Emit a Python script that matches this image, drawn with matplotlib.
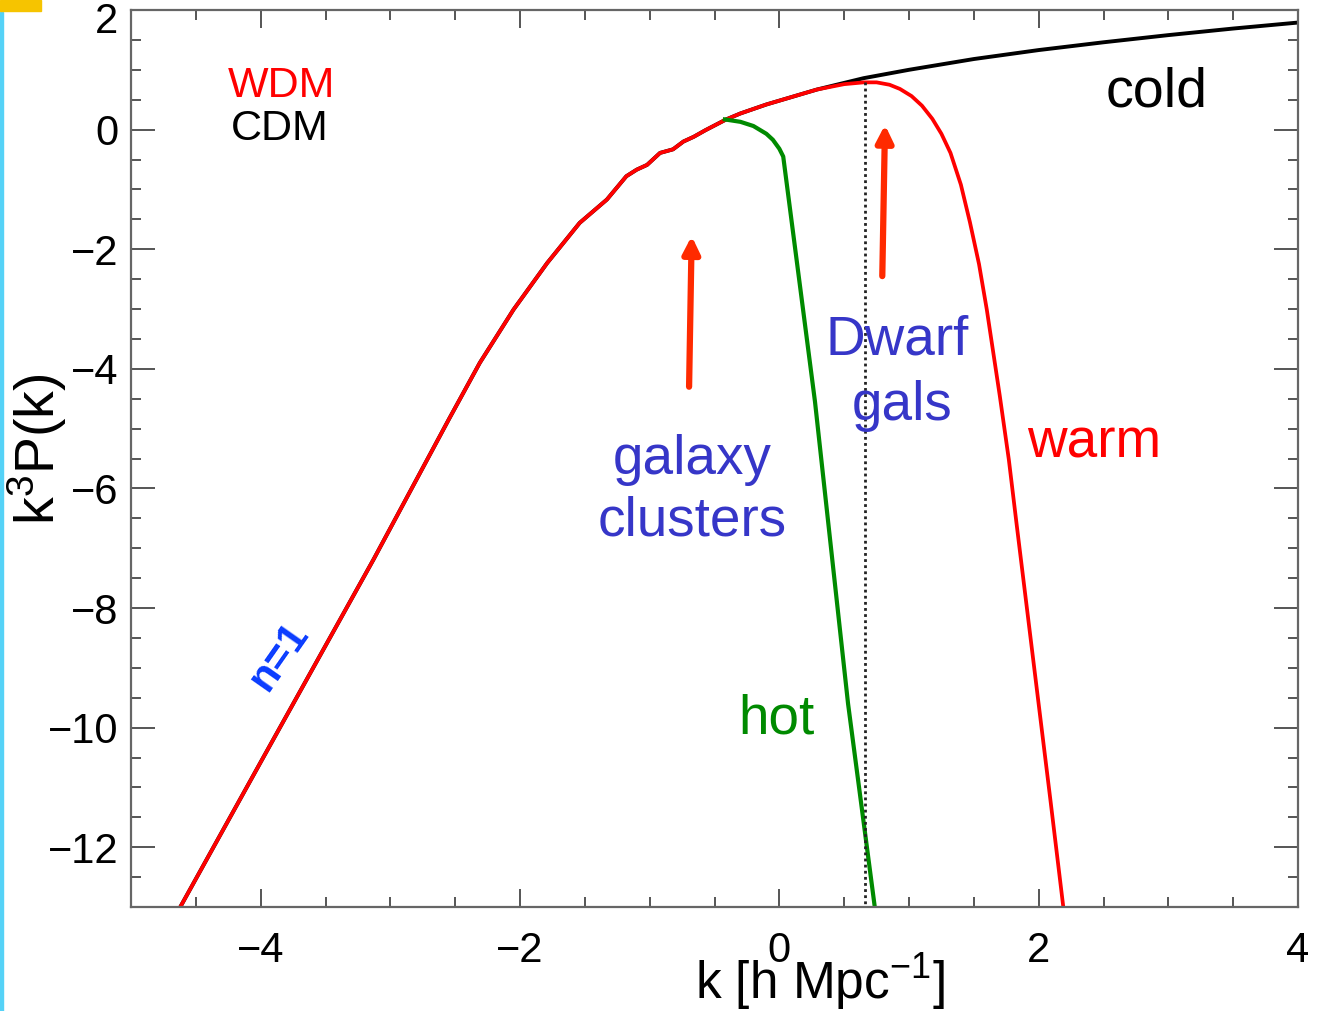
"""Matter power spectrum sketch: cold, warm and hot dark matter cut-offs."""

import matplotlib

matplotlib.use("Agg")
import matplotlib.pyplot as plt
from matplotlib.patches import Rectangle
from matplotlib.transforms import blended_transform_factory

plt.rcParams["font.family"] = ["Liberation Sans", "DejaVu Sans"]
plt.rcParams["mathtext.fontset"] = "custom"
plt.rcParams["mathtext.rm"] = "Liberation Sans"
plt.rcParams["mathtext.it"] = "Liberation Sans"

# shared large-scale part (CDM and WDM agree here)
k_shared = [-4.62, -3.98, -3.13, -2.55, -2.31, -2.05, -1.79, -1.54, -1.33,
            -1.18, -1.10, -1.02, -0.92, -0.82, -0.74, -0.66, -0.57, -0.41, -0.30]
p_shared = [-13.0, -10.5, -7.19, -4.85, -3.90, -3.01, -2.23, -1.56, -1.17,
            -0.78, -0.67, -0.59, -0.39, -0.33, -0.20, -0.12, -0.01, 0.17, 0.27]

# cold dark matter beyond the shared part
k_cold = [-0.10, 0.29, 0.65, 1.00, 1.50, 2.00, 2.50, 3.00, 3.50, 4.00]
p_cold = [0.42, 0.67, 0.86, 1.00, 1.18, 1.33, 1.46, 1.58, 1.69, 1.79]

# warm dark matter beyond the shared part
k_warm = [-0.10, 0.29, 0.50, 0.65, 0.75, 0.85, 0.93, 1.02, 1.10, 1.18, 1.25,
          1.32, 1.40, 1.47, 1.54, 1.60, 1.70, 1.77, 1.83, 1.96, 2.09, 2.19]
p_warm = [0.42, 0.67, 0.76, 0.79, 0.79, 0.75, 0.68, 0.56, 0.40, 0.18, -0.07,
          -0.39, -0.92, -1.55, -2.25, -3.01, -4.45, -5.52, -6.60, -8.90, -11.2, -13.0]

# hot dark matter
k_hot = [-0.42, -0.30, -0.20, -0.10, -0.05, 0.00, 0.03, 0.275, 0.53, 0.736]
p_hot = [0.17, 0.13, 0.06, -0.07, -0.17, -0.32, -0.45, -4.55, -9.6, -13.0]

k_cut = 0.66
arrow_k = [(-0.696, -0.676), (0.794, 0.815)]
arrow_p = [(-4.30, -1.78), (-2.45, 0.08)]

RED = "#ff0000"
GREEN = "#008a00"
BLUE = "#3636c8"
ARROW = "#ff2a00"
TXT = 39.5

fig = plt.figure(figsize=(13.21, 10.11), dpi=100)
ax = fig.add_axes([131 / 1321, 1 - 907 / 1011, 1167 / 1321, 897 / 1011])

ax.plot(k_shared + k_cold, p_shared + p_cold, color="black", linewidth=2.8)
ax.plot(k_shared + k_warm, p_shared + p_warm, color=RED, linewidth=2.7)
ax.plot(k_hot, p_hot, color=GREEN, linewidth=3.0)
ax.plot([k_cut, k_cut], [0.79, -13.0], color="#222222", linewidth=2.0,
        linestyle=(0, (1, 1.2)))

for (x0, x1), (y0, y1) in zip(arrow_k, arrow_p):
    ax.annotate("", xy=(x1, y1), xytext=(x0, y0),
                arrowprops=dict(arrowstyle="-|>,head_length=1.0,head_width=0.5",
                                color=ARROW, linewidth=4.5, shrinkA=0, shrinkB=0))

ax.set_xlim(-5, 4)
ax.set_ylim(-13, 2)
ax.set_xticks([-4, -2, 0, 2, 4])
ax.set_yticks([-12, -10, -8, -6, -4, -2, 0, 2])
ax.set_yticklabels(["\u221212", "\u221210", "\u22128", "\u22126", "\u22124",
                    "\u22122", "0", ""])
ax.set_xticks([v / 2 for v in range(-10, 9)], minor=True)
ax.set_yticks([v / 2 for v in range(-26, 5)], minor=True)
ax.tick_params(which="both", direction="in", top=True, right=True,
               color="#555555", width=1.4, labelsize=30)
ax.tick_params(axis="x", which="major", length=13, pad=17)
ax.tick_params(axis="y", which="major", length=17, pad=9)
ax.tick_params(which="minor", length=7)
for spine in ax.spines.values():
    spine.set_color("#666666")
    spine.set_linewidth(1.6)

# the top y label sits a little below its tick, inside the figure
ax.text(-0.0111, 1.8, "2", fontsize=30, ha="right", va="center",
        transform=blended_transform_factory(ax.transAxes, ax.transData))

ax.set_xlabel("k [h Mpc$^{-1}$]", fontsize=37, va="top")
ax.xaxis.set_label_coords(0.59, -0.05)
ax.set_ylabel("k$^{3}$P(k)", fontsize=40, va="bottom")
ax.yaxis.set_label_coords(-0.053, 0.51)

ax.text(-4.25, 0.55, "WDM", color=RED, fontsize=31, va="baseline")
ax.text(-4.23, -0.17, "CDM", color="black", fontsize=31, va="baseline")
ax.text(2.52, 0.62, "cold", color="black", fontsize=40, va="center")
ax.text(0.91, -3.52, "Dwarf", color=BLUE, fontsize=TXT, ha="center", va="center")
ax.text(0.95, -4.62, "gals", color=BLUE, fontsize=TXT, ha="center", va="center")
ax.text(2.43, -5.25, "warm", color=RED, fontsize=TXT, ha="center", va="center")
ax.text(-0.67, -5.52, "galaxy", color=BLUE, fontsize=TXT, ha="center", va="center")
ax.text(-0.67, -6.55, "clusters", color=BLUE, fontsize=TXT, ha="center", va="center")
ax.text(-0.02, -9.87, "hot", color=GREEN, fontsize=TXT, ha="center", va="center")
ax.text(-3.86, -8.82, "n=1", color="#0a3cff", fontsize=30, fontweight="bold",
        rotation=55, ha="center", va="center", rotation_mode="anchor")

# slide decorations at the left edge
fig.patches.append(Rectangle((0, 0), 3 / 1321, 1 - 12 / 1011,
                             transform=fig.transFigure, color="#55d2f7", zorder=0))
fig.patches.append(Rectangle((0, 1 - 11 / 1011), 41 / 1321, 11 / 1011,
                             transform=fig.transFigure, color="#f6c400", zorder=0))

fig.savefig("out.png", dpi=100)
